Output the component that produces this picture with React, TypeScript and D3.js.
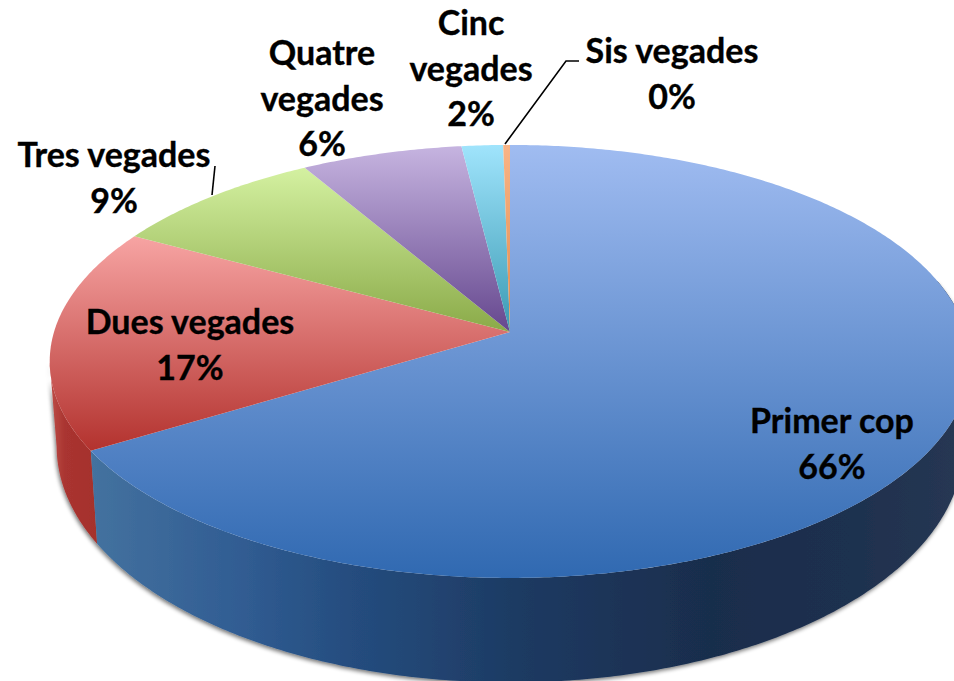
import React, { useMemo } from "react";
import * as d3 from "d3";

const W = 954;
const H = 681;

// Data (percent of total, clockwise from 12 o'clock)
const categories = ["Primer cop", "Dues vegades", "Tres vegades", "Quatre vegades", "Cinc vegades", "Sis vegades"];
const shares = [66.3, 16.66, 8.65, 6.46, 1.66, 0.27];
const percentLabels = ["66%", "17%", "9%", "6%", "2%", "0%"];

// Styling
const topColors = [
  ["#a0bcf1", "#3069b1"],
  ["#f7a4a3", "#b3322e"],
  ["#d4f1a1", "#8aaa48"],
  ["#c6b4e0", "#65478e"],
  ["#a0e4fc", "#3a9ab3"],
  ["#f9b486", "#de8a4e"],
];
const labelLines = [
  { lines: ["Primer cop", "66%"], x: 832, y: 433 },
  { lines: ["Dues vegades", "17%"], x: 190, y: 334 },
  { lines: ["Tres vegades", "9%"], x: 114, y: 167 },
  { lines: ["Quatre", "vegades", "6%"], x: 322, y: 65 },
  { lines: ["Cinc", "vegades", "2%"], x: 471, y: 35 },
  { lines: ["Sis vegades", "0%"], x: 672, y: 63 },
];
const LINE_STEP = 45.5;
const leaderPaths = [
  [[505, 144], [566, 61], [579, 61]],
  [[212, 195], [215, 166]],
];

// Perspective projection of the pie disc
const X0 = 510;
const TOP_Y0 = 332;
const BOTTOM_Y0 = 414;
const KP = 0.136;
const BX = 456;
const TOP_A = 212.5;
const BOTTOM_A = 232;
const BOTTOM_SX = 0.985;

function topPoint(t: number): [number, number] {
  const u = Math.sin(t);
  const v = -Math.cos(t);
  const w = 1 - KP * v;
  return [X0 + (BX * u) / w, TOP_Y0 + (TOP_A * v) / w];
}
function bottomPoint(t: number): [number, number] {
  const u = Math.sin(t);
  const v = -Math.cos(t);
  const w = 1 - KP * v;
  return [X0 + (BOTTOM_SX * BX * u) / w, BOTTOM_Y0 + (BOTTOM_A * v) / w];
}
function samples(a: number, b: number): number[] {
  const n = Math.max(2, Math.ceil(Math.abs(b - a) / 0.01));
  return d3.range(n + 1).map((i) => a + ((b - a) * i) / n);
}

const LEFT_EXTREME = (262 / 180) * Math.PI;

export default function App() {
  const slices = useMemo(
    () => d3.pie<number>().sort(null).value((d) => d)(shares),
    []
  );
  const line = d3.line();

  const tops = slices.map((s) =>
    line([[X0, TOP_Y0], ...samples(s.startAngle, s.endAngle).map(topPoint)] as [number, number][]) + "Z"
  );

  const rimPath = (a: number, b: number) =>
    line([
      ...samples(a, b).map(topPoint),
      ...samples(b, a).map(bottomPoint),
    ] as [number, number][]) + "Z";

  const blueEnd = slices[0].endAngle;
  const blueRim = rimPath(Math.PI * 0.42, blueEnd);
  const redRim = rimPath(blueEnd, LEFT_EXTREME);

  const font = "Lato, 'Open Sans', sans-serif";

  return (
    <svg
      width={W}
      height={H}
      viewBox={`0 0 ${W} ${H}`}
      style={{ position: "absolute", left: 0, top: 0, display: "block", background: "#fff" }}
    >
      <defs>
        {topColors.map((c, i) => (
          <linearGradient key={i} id={`top${i}`} x1="0" y1="0" x2="0" y2="1">
            <stop offset="0" stopColor={c[0]} />
            <stop offset="1" stopColor={c[1]} />
          </linearGradient>
        ))}
        <linearGradient id="blueRim" gradientUnits="userSpaceOnUse" x1="90" y1="0" x2="954" y2="0">
          <stop offset="0" stopColor="#44729f" />
          <stop offset="0.17" stopColor="#315d93" />
          <stop offset="0.3" stopColor="#254d7f" />
          <stop offset="0.5" stopColor="#1d3a62" />
          <stop offset="0.72" stopColor="#192d4c" />
          <stop offset="0.88" stopColor="#1e304f" />
          <stop offset="1" stopColor="#263752" />
        </linearGradient>
        <linearGradient id="redRim" gradientUnits="userSpaceOnUse" x1="52" y1="0" x2="97" y2="0">
          <stop offset="0" stopColor="#bb4a45" />
          <stop offset="0.3" stopColor="#a93430" />
          <stop offset="1" stopColor="#a5302c" />
        </linearGradient>
        <filter id="rimShadow" x="-5%" y="-5%" width="110%" height="110%">
          <feGaussianBlur in="SourceAlpha" stdDeviation="2" />
          <feOffset dx="-1" dy="2" />
          <feComponentTransfer>
            <feFuncA type="linear" slope="0.55" />
          </feComponentTransfer>
          <feMerge>
            <feMergeNode />
            <feMergeNode in="SourceGraphic" />
          </feMerge>
        </filter>
      </defs>

      <g filter="url(#rimShadow)">
        <path d={redRim} fill="url(#redRim)" />
        <path d={blueRim} fill="url(#blueRim)" />
      </g>

      {tops.map((d, i) => (
        <path key={categories[i]} d={d} fill={`url(#top${i})`} />
      ))}

      {leaderPaths.map((p, i) => (
        <path key={i} d={line(p as [number, number][]) as string} fill="none" stroke="#000" strokeWidth={1.6} />
      ))}

      {labelLines.map((l, i) => (
        <text
          key={i}
          x={l.x}
          y={l.y}
          textAnchor="middle"
          fontFamily={font}
          fontWeight={700}
          fontSize={34}
          fill="#000"
          stroke="#000"
          strokeWidth={0.35}
          aria-label={`${categories[i]} ${percentLabels[i]}`}
        >
          {l.lines.map((t, j) => (
            <tspan key={j} x={l.x} y={l.y + j * LINE_STEP}>
              {t}
            </tspan>
          ))}
        </text>
      ))}
    </svg>
  );
}
